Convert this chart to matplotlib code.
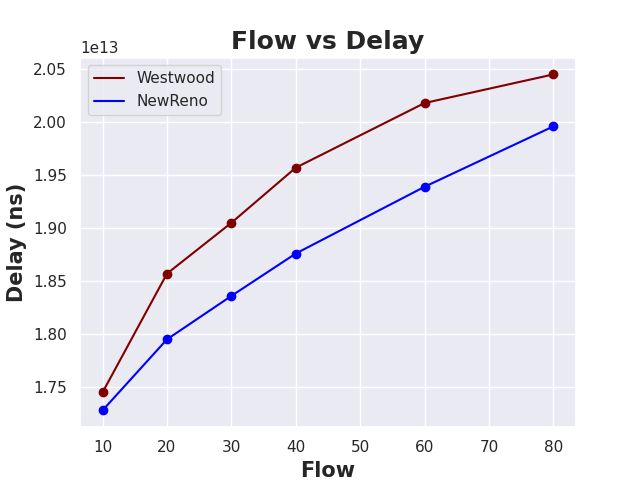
import matplotlib
matplotlib.use("Agg")
import matplotlib.pyplot as plt
import seaborn as sns
import numpy as np

flows = [10, 20, 30, 40, 60, 80]
westwood = np.array([1.745, 1.857, 1.905, 1.957, 2.018, 2.045]) * 1e13
newreno = np.array([1.728, 1.795, 1.836, 1.876, 1.939, 1.996]) * 1e13

sns.set_theme(style="darkgrid")
fig = plt.figure(figsize=(6.4, 4.8), dpi=100)
plt.plot(flows, westwood, color="maroon", label="Westwood")
plt.scatter(flows, westwood, color="maroon", zorder=3)
plt.plot(flows, newreno, color="blue", label="NewReno")
plt.scatter(flows, newreno, color="blue", zorder=3)
plt.legend(loc="upper left")
plt.title("Flow vs Delay", fontsize=18, fontweight="bold")
plt.xlabel("Flow", fontsize=15, fontweight="bold")
plt.ylabel("Delay (ns)", fontsize=15, fontweight="bold")
plt.savefig("out.png")
